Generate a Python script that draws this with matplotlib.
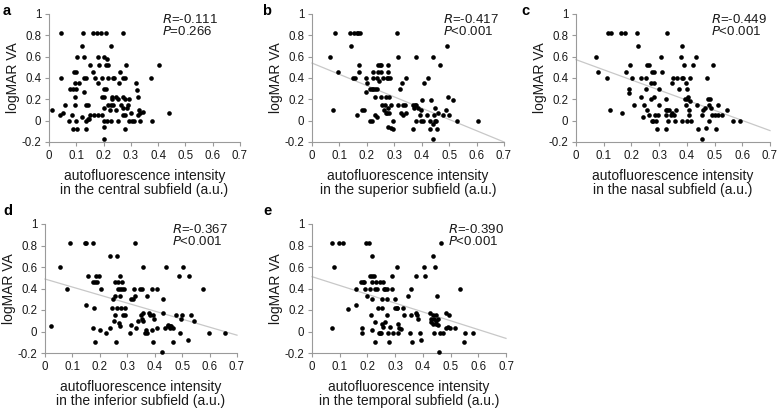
import matplotlib
matplotlib.use("Agg")
import matplotlib.pyplot as plt
import numpy as np

plt.rcParams['font.family'] = ['Liberation Sans', 'DejaVu Sans']

# ---------------- data ----------------
a_x = [0.012,0.045,0.045,0.042,0.05,0.06,0.075,0.078,0.085,0.088,0.09,0.094,0.094,0.095,0.098,0.088,0.103,
       0.1,0.103,0.098,0.11,0.12,0.125,0.13,0.12,0.13,0.13,0.137,0.137,0.143,0.137,0.143,0.135,0.147,0.15,0.15,
       0.16,0.16,0.165,0.17,0.175,0.18,0.18,0.18,0.182,0.19,0.193,0.193,0.195,0.2,0.2,0.2,0.2,0.2,0.2,0.2,
       0.208,0.208,0.21,0.213,0.215,0.218,0.215,0.213,0.222,0.226,0.226,0.23,0.235,0.232,0.24,0.235,0.228,
       0.245,0.247,0.253,0.253,0.257,0.26,0.265,0.27,0.272,0.273,0.272,0.27,0.278,0.278,0.28,0.28,0.283,
       0.285,0.29,0.292,0.292,0.3,0.305,0.31,0.32,0.323,0.325,0.327,0.33,0.333,0.335,0.343,0.372,0.376,
       0.403,0.44]
a_y = [0.10,0.82,0.40,0.05,0.07,0.15,0.00,0.30,0.05,0.30,0.46,0.35,0.22,0.15,0.00,-0.08,-0.08,
       0.46,0.60,0.30,0.35,0.70,0.82,0.60,0.03,0.27,0.40,0.40,0.15,0.15,0.00,0.02,-0.08,0.02,0.52,0.05,
       0.82,0.46,0.05,0.40,0.82,0.35,0.05,0.60,0.52,0.82,0.40,0.22,0.05,0.60,0.30,0.12,0.22,0.00,-0.06,-0.17,
       0.30,0.52,0.82,0.58,0.52,0.40,0.15,0.00,0.10,0.15,0.70,0.20,0.40,0.22,0.40,0.15,0.00,
       0.22,0.10,0.00,0.20,0.35,0.46,0.15,0.22,0.82,0.40,0.12,0.05,0.20,-0.08,0.40,0.05,0.52,
       0.12,0.15,0.00,0.20,0.07,0.00,0.00,0.35,0.29,0.22,0.05,0.10,0.07,0.00,0.08,0.40,0.00,
       0.52,0.07]

b_x = [0.064,0.078,0.085,0.094,0.137,0.142,0.149,0.155,0.154,0.163,0.168,0.175,0.163,0.173,0.173,0.182,
       0.188,0.197,0.197,0.2,0.212,0.212,0.218,0.222,0.222,0.218,0.224,0.23,0.23,0.23,0.236,0.236,0.238,
       0.242,0.242,0.246,0.248,0.252,0.25,0.25,0.258,0.254,0.263,0.267,0.27,0.27,0.272,0.275,0.278,0.278,
       0.278,0.278,0.278,0.282,0.282,0.285,0.287,0.287,0.294,0.296,0.309,0.312,0.315,0.32,0.323,0.327,
       0.33,0.333,0.339,0.342,0.342,0.367,0.369,0.373,0.375,0.378,0.379,0.379,0.387,0.393,0.397,0.399,
       0.402,0.403,0.409,0.418,0.423,0.43,0.432,0.434,0.44,0.441,0.441,0.444,0.448,0.45,0.451,0.454,
       0.458,0.466,0.478,0.488,0.492,0.497,0.5,0.514,0.527,0.605]
b_y = [0.60,0.10,0.82,0.46,0.82,0.70,0.40,0.40,0.82,0.82,0.82,0.82,0.05,0.52,0.46,0.10,
       0.10,0.40,0.27,0.35,0.30,0.00,0.00,0.46,0.40,0.30,0.30,0.30,0.22,0.05,0.03,0.30,0.40,
       0.46,0.52,0.37,0.52,0.22,0.46,0.52,0.40,0.15,0.10,0.15,0.07,0.22,0.07,0.40,0.46,0.52,
       0.40,0.12,-0.06,0.07,0.22,0.40,0.15,-0.07,-0.08,0.00,0.82,0.15,0.60,0.30,0.07,0.35,
       0.15,0.05,0.15,0.40,0.07,0.15,-0.08,0.12,0.15,0.60,0.15,0.00,0.12,0.05,0.00,0.10,
       0.19,0.00,0.35,0.05,0.40,0.00,-0.08,0.19,-0.03,0.60,-0.17,0.05,0.00,0.12,0.00,-0.08,
       0.07,0.52,0.05,0.10,0.70,0.22,0.05,0.19,0.00,0.00]

c_x = [0.072,0.08,0.112,0.116,0.121,0.128,0.163,0.166,0.176,0.181,0.19,0.19,0.194,0.203,0.209,0.221,
       0.225,0.233,0.236,0.24,0.246,0.251,0.251,0.255,0.257,0.263,0.263,0.269,0.269,0.273,0.279,0.275,
       0.281,0.281,0.281,0.285,0.287,0.291,0.297,0.299,0.299,0.305,0.309,0.323,0.323,0.323,0.326,0.329,
       0.329,0.332,0.335,0.341,0.347,0.347,0.35,0.353,0.357,0.36,0.365,0.372,0.378,0.382,0.384,0.384,
       0.386,0.39,0.392,0.396,0.396,0.4,0.402,0.402,0.405,0.408,0.408,0.41,0.411,0.414,0.423,0.434,
       0.438,0.442,0.454,0.456,0.46,0.466,0.468,0.474,0.477,0.48,0.482,0.48,0.487,0.492,0.495,0.502,
       0.504,0.514,0.513,0.525,0.546,0.568,0.592]
c_y = [0.60,0.46,0.40,0.82,0.10,0.82,0.82,0.07,0.82,0.46,0.30,0.26,0.52,0.40,0.15,0.82,
       0.70,0.22,0.40,0.03,0.15,0.40,0.30,0.10,0.52,0.52,0.05,0.35,0.20,0.00,0.00,0.46,
       0.46,0.35,0.22,0.05,0.00,-0.08,0.05,0.15,0.30,0.60,0.46,-0.08,0.10,0.05,0.20,0.10,
       0.82,0.00,0.10,0.05,0.07,0.35,0.40,0.05,0.00,0.10,0.40,0.30,0.60,0.40,0.70,0.00,
       0.40,0.52,0.20,0.35,0.15,0.20,0.00,0.30,0.22,0.10,0.05,0.40,0.18,0.00,0.52,0.60,
       0.15,-0.08,-0.17,0.05,0.10,0.12,-0.07,0.40,0.20,0.15,0.20,0.00,0.12,0.05,0.52,0.05,
       -0.08,0.15,0.05,0.05,0.10,0.00,0.00]

d_x = [0.023,0.054,0.079,0.091,0.145,0.149,0.148,0.157,0.174,0.175,0.177,0.175,0.181,0.184,0.187,0.19,
       0.196,0.204,0.2,0.224,0.236,0.238,0.244,0.248,0.25,0.254,0.254,0.257,0.259,0.262,0.262,0.265,
       0.266,0.269,0.272,0.272,0.274,0.274,0.277,0.28,0.28,0.284,0.287,0.29,0.293,0.311,0.314,0.314,
       0.32,0.323,0.327,0.329,0.331,0.338,0.347,0.351,0.353,0.353,0.357,0.359,0.359,0.363,0.368,0.371,
       0.371,0.38,0.384,0.39,0.39,0.393,0.395,0.399,0.408,0.408,0.425,0.429,0.432,0.438,0.441,0.447,
       0.45,0.454,0.456,0.459,0.466,0.468,0.477,0.488,0.492,0.496,0.498,0.502,0.52,0.525,0.534,0.544,
       0.577,0.597,0.655]
d_y = [0.05,0.60,0.40,0.82,0.82,0.82,0.25,0.52,0.82,0.46,0.22,0.03,0.46,-0.10,0.52,0.46,
       0.52,0.40,0.01,-0.01,0.70,0.03,0.22,0.30,0.10,0.46,0.15,0.33,-0.10,0.70,0.22,0.40,
       0.46,0.08,0.52,0.40,0.05,0.33,0.22,0.46,0.40,0.15,0.40,0.22,0.15,-0.01,0.30,0.06,
       0.30,0.40,0.33,0.82,0.03,0.10,0.40,0.15,0.40,0.12,0.17,0.60,0.10,-0.01,0.01,0.33,
       -0.01,0.17,0.15,0.40,0.01,-0.10,0.15,0.12,0.40,0.03,-0.19,0.17,0.30,0.03,0.60,0.06,
       0.05,0.05,0.03,0.05,0.03,-0.10,0.15,0.52,-0.01,0.12,0.15,0.60,-0.08,0.52,0.15,0.10,
       0.40,-0.01,-0.01]

e_x = [0.072,0.073,0.078,0.096,0.112,0.13,0.157,0.16,0.175,0.182,0.182,0.184,0.188,0.19,0.194,0.2,
       0.206,0.208,0.208,0.212,0.215,0.215,0.215,0.218,0.218,0.224,0.226,0.226,0.229,0.231,0.234,0.239,
       0.242,0.245,0.247,0.25,0.253,0.254,0.257,0.254,0.257,0.259,0.263,0.265,0.269,0.269,0.271,0.275,
       0.277,0.28,0.287,0.289,0.293,0.299,0.299,0.305,0.308,0.311,0.308,0.311,0.315,0.32,0.329,0.333,
       0.346,0.354,0.359,0.361,0.359,0.375,0.377,0.38,0.383,0.389,0.393,0.404,0.408,0.425,0.429,0.431,
       0.435,0.437,0.437,0.44,0.441,0.443,0.446,0.447,0.449,0.452,0.453,0.455,0.458,0.461,0.465,0.471,
       0.483,0.485,0.489,0.494,0.498,0.516,0.534,0.55,0.552,0.582]
e_y = [0.82,0.03,0.60,0.82,0.82,0.21,0.25,0.40,0.46,0.03,-0.01,0.46,0.46,0.40,0.82,0.33,
       0.82,0.52,0.40,0.15,0.30,0.70,0.01,0.52,0.46,0.52,0.40,-0.10,0.09,0.46,0.40,0.22,
       -0.01,-0.01,0.46,-0.01,0.30,0.22,0.46,0.07,0.04,0.40,0.09,0.40,0.30,0.15,0.40,-0.01,
       -0.10,0.04,0.52,0.40,-0.01,0.30,0.22,0.22,0.60,0.07,0.22,-0.01,0.03,0.02,0.22,0.15,
       0.33,-0.01,0.40,-0.10,0.15,0.17,0.52,0.15,0.12,-0.01,-0.08,0.60,0.52,0.17,0.09,0.12,
       0.15,0.70,0.07,0.12,-0.01,0.60,0.15,0.10,0.07,0.33,0.12,0.06,-0.19,-0.01,0.82,-0.01,
       0.17,0.03,0.04,0.15,0.03,0.03,0.40,-0.10,-0.01,-0.01]

panel_letters = ['a', 'b', 'c', 'd', 'e']
subfields = ['central', 'superior', 'nasal', 'inferior', 'temporal']
r_values = ['-0.111', '-0.417', '-0.449', '-0.367', '-0.390']
p_texts = ['=0.266', '<0.001', '<0.001', '<0.001', '<0.001']
fit_intercepts = [None, 0.54, 0.572, 0.488, 0.51]
fit_slopes = [None, -1.057, -0.95, -0.746, -0.82]
x_ticks = [0, 0.1, 0.2, 0.3, 0.4, 0.5, 0.6, 0.7]
y_ticks = [-0.2, 0, 0.2, 0.4, 0.6, 0.8, 1]

xs = [a_x, b_x, c_x, d_x, e_x]
ys = [a_y, b_y, c_y, d_y, e_y]

# ---------------- layout ----------------
W, H = 779, 409
fig = plt.figure(figsize=(W / 100, H / 100), dpi=100)
fig.patch.set_facecolor('white')

# (left, right, top, bottom) in pixels
boxes = [(49, 240, 14, 142), (312, 504, 14, 142), (576, 770, 14, 142),
         (45, 237, 224, 353), (312, 506, 224, 353)]
text_x = [0.885, 0.974, 0.985, 0.953, 0.99]
letter_pos = [(3, 4), (262, 4), (521, 4), (3, 204), (263, 204)]

spine_col = '#9a9a9a'
txt_col = '#1a1a1a'
for i in range(5):
    l, r, t, b = boxes[i]
    ax = fig.add_axes([l / W, 1 - b / H, (r - l) / W, (b - t) / H])
    ax.set_xlim(0, 0.7)
    ax.set_ylim(-0.2, 1.0)
    ax.set_xticks(x_ticks)
    ax.set_xticklabels(['0' if v == 0 else f'{v:g}' for v in x_ticks])
    ax.set_yticks(y_ticks)
    ax.set_yticklabels(['0' if v == 0 else f'{v:g}' for v in y_ticks])
    for s in ['top', 'right']:
        ax.spines[s].set_visible(False)
    for s in ['left', 'bottom']:
        ax.spines[s].set_color(spine_col)
        ax.spines[s].set_linewidth(0.8)
    ax.tick_params(axis='both', which='both', direction='out', length=3, width=0.8,
                   color=spine_col, labelsize=8.3, labelcolor=txt_col, pad=2.5)
    if fit_intercepts[i] is not None:
        xl = np.array([0.0, 0.7])
        ax.plot(xl, fit_intercepts[i] + fit_slopes[i] * xl, color='#c8c8c8',
                lw=0.9, zorder=1, clip_on=False)
    ax.scatter(xs[i], ys[i], s=11, color='black', linewidths=0, zorder=3, clip_on=False)
    ax.set_ylabel('logMAR VA', fontsize=10, labelpad=1.5, color=txt_col)
    ax.set_xlabel(f'autofluorescence intensity\nin the {subfields[i]} subfield (a.u.)',
                  fontsize=10, linespacing=1.0, labelpad=5, color=txt_col)
    ax.text(text_x[i], 1.01, f'$\\it{{R}}$={r_values[i]}\n$\\it{{P}}${p_texts[i]}',
            transform=ax.transAxes, ha='right', va='top', multialignment='left',
            fontsize=9.5, linespacing=0.95, color=txt_col)
    lx, ly = letter_pos[i]
    fig.text(lx / W, 1 - ly / H, panel_letters[i], fontsize=10.5, fontweight='bold',
             ha='left', va='top')

fig.savefig('out.png', dpi=100, facecolor='white')
